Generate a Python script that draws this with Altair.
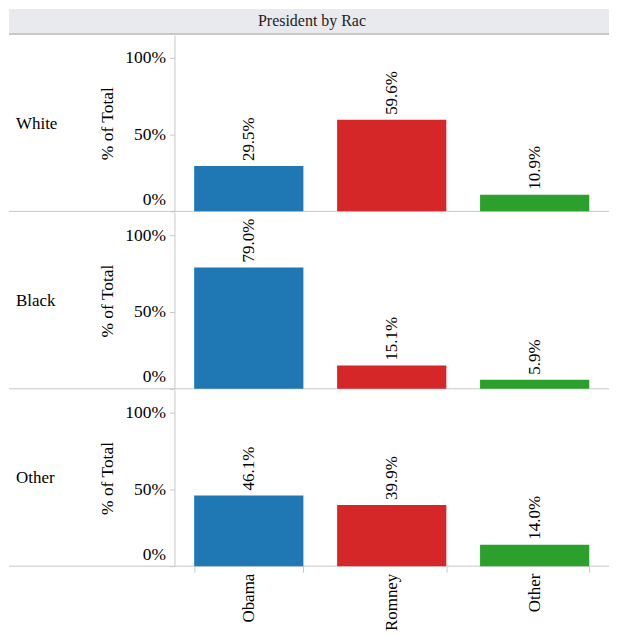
import altair as alt
import pandas as pd

header_title = "President by Rac"
races = ["White", "Black", "Other"]
candidates = ["Obama", "Romney", "Other"]
pct_white = [0.295, 0.596, 0.109]
pct_black = [0.790, 0.151, 0.059]
pct_other = [0.461, 0.399, 0.140]
colors = ["#1f77b4", "#d62728", "#2ca02c"]
y_ticks = [0, 0.5, 1.0]

series = {"White": pct_white, "Black": pct_black, "Other": pct_other}

FONT = "Liberation Serif, Times New Roman, serif"
W = 436
H = 177
LEFT = 166
GRID = "#c8c8c8"
one = pd.DataFrame({"k": [0]})


def row_chart(race, last):
    df = pd.DataFrame({"Candidate": candidates, "Pct": series[race]})
    base = alt.Chart(df)
    if last:
        x_axis = alt.Axis(title=None, labelAngle=270, labelFontSize=17, labelFont=FONT,
                          labelColor="#000", domain=False, ticks=True, tickBand="extent",
                          tickSize=6, tickColor=GRID, labelPadding=1)
    else:
        x_axis = None
    x = alt.X("Candidate:N", sort=candidates,
              scale=alt.Scale(paddingInner=0.236, paddingOuter=0.138), axis=x_axis)
    y = alt.Y("Pct:Q", scale=alt.Scale(domain=[0, 1.149], nice=False, zero=True),
              axis=alt.Axis(values=y_ticks, format="%", title="% of Total",
                            labelFont=FONT, labelFontSize=17.5, labelColor="#000",
                            titleFont=FONT, titleFontSize=17.5, titleFontWeight="normal",
                            titleColor="#000", titlePadding=8, tickSize=5, tickColor=GRID,
                            domainColor=GRID, labelPadding=4, grid=False,
                            labelFlush=True, labelFlushOffset=-3))
    bars = base.mark_bar().encode(
        x=x, y=y,
        color=alt.Color("Candidate:N", scale=alt.Scale(domain=candidates, range=colors), legend=None),
    )
    labels = base.mark_text(angle=270, align="left", baseline="middle", dx=5,
                            font=FONT, fontSize=17, color="#000").encode(
        x=x, y=y, text=alt.Text("Pct:Q", format=".1%"))
    divider = alt.Chart(one).mark_rule(color=GRID, strokeWidth=1).encode(
        x=alt.value(-LEFT), x2=alt.value(W), y=alt.value(H))
    rlabel = alt.Chart(one).mark_text(text=race, align="left", baseline="middle",
                                      font=FONT, fontSize=17, color="#000").encode(
        x=alt.value(-159), y=alt.value(89))
    return alt.layer(divider, bars, labels, rlabel).properties(width=W, height=H)


band = alt.Chart(one).mark_rect(color="#e9eaee").encode(
    x=alt.value(-LEFT), x2=alt.value(W), y=alt.value(0), y2=alt.value(24))
band_line = alt.Chart(one).mark_rule(color=GRID, strokeWidth=2).encode(
    x=alt.value(-LEFT), x2=alt.value(W), y=alt.value(25))
band_text = alt.Chart(one).mark_text(text=header_title, align="center", baseline="middle",
                                     font=FONT, fontSize=16, color="#222").encode(
    x=alt.value((W - LEFT) / 2 + 3), y=alt.value(12))
header = alt.layer(band, band_line, band_text).properties(width=W, height=26)

rows = [row_chart(r, i == len(races) - 1) for i, r in enumerate(races)]

chart = (alt.vconcat(header, *rows, spacing=0)
         .properties(padding=0)
         .configure(font=FONT)
         .configure_view(stroke=None))

chart.save("out.html", embed_options={"renderer": "svg", "actions": False})
